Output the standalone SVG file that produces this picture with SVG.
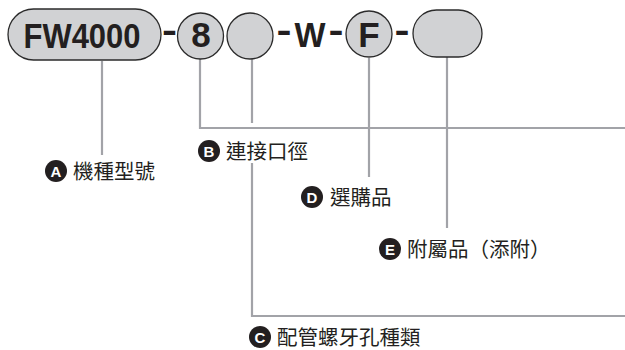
<svg xmlns="http://www.w3.org/2000/svg" width="625" height="350" viewBox="0 0 625 350">
<style>
.shape{fill:#d1d2d4;stroke:#2b2b2b;stroke-width:1.3}
.big{font-family:"Liberation Sans",Arial,sans-serif;font-weight:bold;font-size:35px;fill:#231f20;text-anchor:middle}
.conn{fill:none;stroke:#a2a3a8;stroke-width:2.2}
.badge{fill:#231f20}
.bl{font-family:"Liberation Sans",Arial,sans-serif;font-weight:bold;font-size:15px;fill:#fff;text-anchor:middle}
.lab{font-family:"Noto Sans CJK TC","Noto Sans CJK SC",sans-serif;font-size:20.5px;fill:#231f20}
</style>
<rect width="625" height="350" fill="#fff"/>
<g id="connectors">
<path class="conn" d="M102 61V155"/>
<path class="conn" d="M200 59V128H625"/>
<path class="conn" d="M252 59V123M252 163V316H625"/>
<path class="conn" d="M369 58V177"/>
<path class="conn" d="M447 57V228"/>
</g>
<g id="code">
<rect class="shape" x="8" y="9" width="153" height="51" rx="25.5"/>
<text class="big" x="82" y="48" textLength="117" lengthAdjust="spacingAndGlyphs">FW4000</text>
<text class="big" x="169.5" y="42" textLength="15" lengthAdjust="spacingAndGlyphs">-</text>
<circle class="shape" cx="200.5" cy="36" r="23"/>
<text class="big" x="201" y="47">8</text>
<circle class="shape" cx="250" cy="36" r="23"/>
<text class="big" x="284" y="42" textLength="15" lengthAdjust="spacingAndGlyphs">-</text>
<text class="big" x="310" y="47" textLength="31" lengthAdjust="spacingAndGlyphs">W</text>
<text class="big" x="336" y="42" textLength="15" lengthAdjust="spacingAndGlyphs">-</text>
<circle class="shape" cx="369" cy="34" r="23"/>
<text class="big" x="369" y="47">F</text>
<text class="big" x="402" y="42" textLength="15" lengthAdjust="spacingAndGlyphs">-</text>
<rect class="shape" x="413" y="10" width="69" height="47" rx="23.5"/>
</g>
<g id="label-a">
<circle class="badge" cx="56" cy="171" r="11"/>
<text class="bl" x="56" y="176.5">A</text>
<text class="lab" x="73" y="178.5">機種型號</text>
</g>
<g id="label-b">
<circle class="badge" cx="209" cy="151" r="11"/>
<text class="bl" x="209" y="156.5">B</text>
<text class="lab" x="226" y="158.5">連接口徑</text>
</g>
<g id="label-d">
<circle class="badge" cx="312" cy="197" r="11"/>
<text class="bl" x="312" y="202.5">D</text>
<text class="lab" x="330" y="204.5">選購品</text>
</g>
<g id="label-e">
<circle class="badge" cx="390" cy="249" r="11"/>
<text class="bl" x="390" y="254.5">E</text>
<text class="lab" x="407" y="256.5">附屬品（添附）</text>
</g>
<g id="label-c">
<circle class="badge" cx="260" cy="337" r="11"/>
<text class="bl" x="260" y="342.5">C</text>
<text class="lab" x="277" y="344.5">配管螺牙孔種類</text>
</g>
</svg>
